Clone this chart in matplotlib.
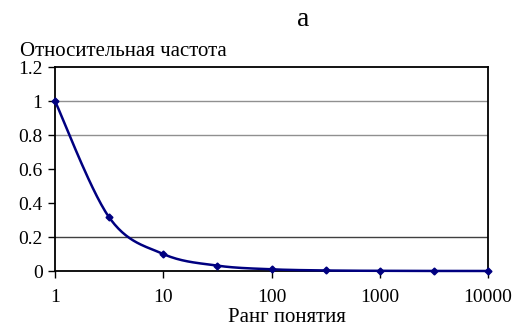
import numpy as np
import matplotlib
matplotlib.use("Agg")
import matplotlib.pyplot as plt

plt.rcParams['font.family'] = ['Liberation Serif', 'DejaVu Serif']

ranks = [1, 3.16, 10, 31.6, 100, 316, 1000, 3162, 10000]
freq = [1.0, 0.316, 0.1, 0.0316, 0.01, 0.00316, 0.001, 0.000316, 0.0001]
xticks = [1, 10, 100, 1000, 10000]
xticklabels = ['1', '10', '100', '1000', '10000']
yticks = [0, 0.2, 0.4, 0.6, 0.8, 1.0, 1.2]
yticklabels = ['0', '0.2', '0.4', '0.6', '0.8', '1', '1.2']
grid_levels = [0.2, 0.8, 1.0]

color = '#000080'

fig = plt.figure(figsize=(5.16, 3.25), dpi=100)
ax = fig.add_axes([55/516, 1-271/325, (488-55)/516, (271-67)/325])
ax.set_xscale('log')
ax.set_xlim(1, 10000)
ax.set_ylim(0, 1.2)

# smooth line (Catmull-Rom in log-x space, like Excel smoothed line)
lx = np.log10(ranks)
y = np.array(freq)
P = np.column_stack([lx, y])
pts = []
n = len(P)
for i in range(n - 1):
    p0 = P[i - 1] if i > 0 else P[i]
    p1 = P[i]
    p2 = P[i + 1]
    p3 = P[i + 2] if i + 2 < n else P[i + 1]
    c1 = p1 + (p2 - p0) / 6
    c2 = p2 - (p3 - p1) / 6
    t = np.linspace(0, 1, 30)[:, None]
    seg = (1-t)**3*p1 + 3*(1-t)**2*t*c1 + 3*(1-t)*t**2*c2 + t**3*p2
    pts.append(seg)
S = np.vstack(pts)

for g in grid_levels:
    ax.axhline(g, color='#909090' if g != 0.2 else '#404040', lw=1.0, zorder=1)

ax.plot(10**S[:, 0], S[:, 1], color=color, lw=1.8, zorder=3, clip_on=False)
ax.plot(ranks, freq, linestyle='none', marker='D', ms=3.5, color=color, zorder=4, clip_on=False)

ax.set_xticks(xticks)
ax.set_xticklabels(xticklabels)
ax.xaxis.set_minor_locator(matplotlib.ticker.NullLocator())
ax.set_yticks(yticks)
ax.set_yticklabels(yticklabels)
ax.tick_params(axis='both', direction='out', length=5, width=1, labelsize=14, color='black')
ax.tick_params(axis='x', pad=8)
ax.tick_params(axis='y', pad=4)
for s in ax.spines.values():
    s.set_color('black')
    s.set_linewidth(1.3)

fig.text(303/516, 1-20/325, 'а', ha='center', va='center', fontsize=20)
fig.text(20/516, 1-51/325, 'Относительная частота', ha='left', va='center', fontsize=15)
fig.text(287/516, 1-317/325, 'Ранг понятия', ha='center', va='center', fontsize=15)

fig.savefig('out.png', dpi=100)
